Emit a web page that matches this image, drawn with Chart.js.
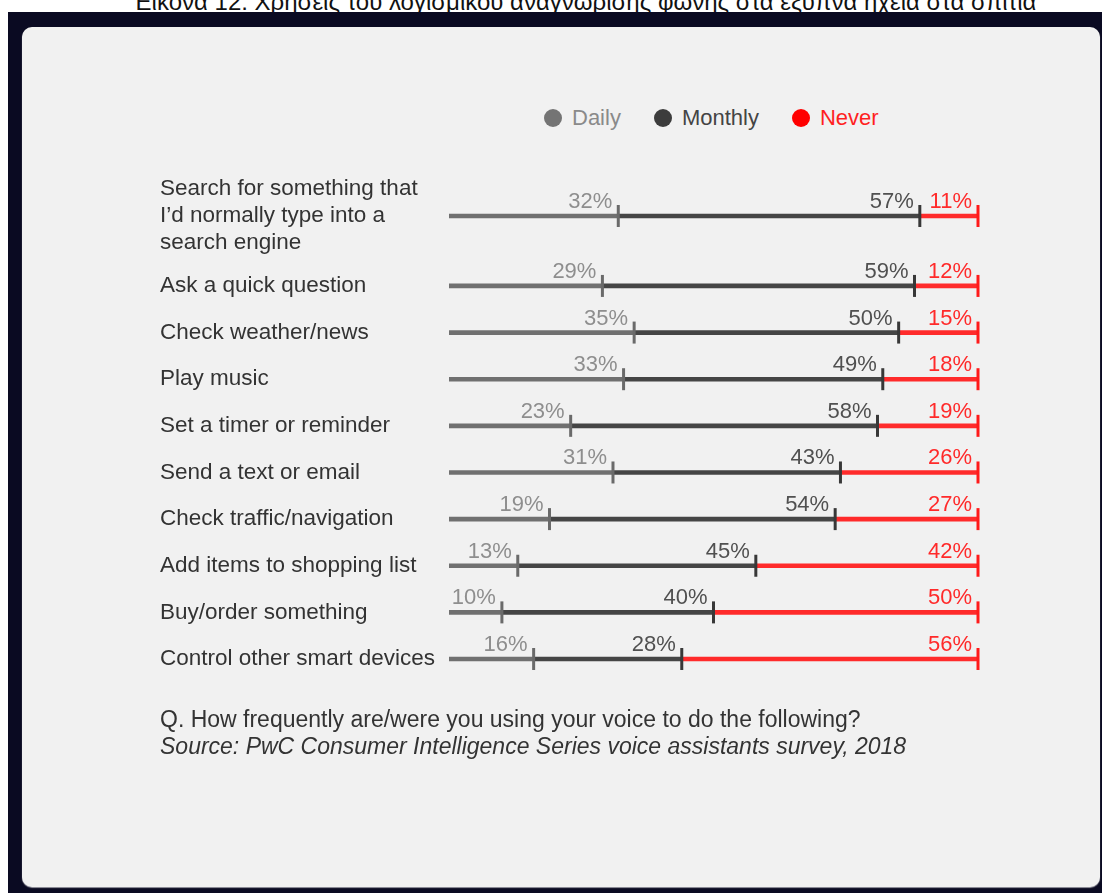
<!DOCTYPE html>
<html>
<head>
<meta charset="utf-8">
<script src="https://cdn.jsdelivr.net/npm/chart.js@4.4.1/dist/chart.umd.min.js"></script>
<style>
  body{ margin:0; width:1102px; height:893px; position:relative; overflow:hidden; background:#fff; font-family:"Liberation Sans", Arial, sans-serif; }
  .caption{ position:absolute; left:35px; width:1102px; top:-10px; text-align:center; font-size:24px; line-height:24px; color:#111; white-space:nowrap; }
  .frame{ position:absolute; left:8px; top:12px; right:0; bottom:0; background:#0a0a22; }
  .panel{ position:absolute; left:22px; top:27px; width:1078px; height:860px; background:#f1f1f1; border-radius:10px; box-shadow:0 1px 1px #9a9aa4; }
  .legend{ position:absolute; left:544px; top:106px; display:flex; align-items:center; font-size:22px; line-height:24px; }
  .legend span.item{ display:flex; align-items:center; margin-right:33px; }
  .legend i{ display:inline-block; width:18px; height:18px; border-radius:50%; margin-right:10px; }
  .chart{ position:absolute; left:160px; top:143px; width:828px; height:589px; }
  .foot{ position:absolute; left:160px; top:706px; font-size:23px; line-height:27px; color:#333; }
  .foot em{ display:block; }
</style>
</head>
<body>
<div class="caption">Εικόνα 12: Χρήσεις του λογισμικού αναγνώρισης φωνής στα έξυπνα ηχεία στα σπίτια</div>
<div class="frame"></div>
<div class="panel"></div>
<div class="legend">
  <span class="item" style="color:#8a8a8a"><i style="background:#747474"></i>Daily</span>
  <span class="item" style="color:#444"><i style="background:#3c3c3c"></i>Monthly</span>
  <span class="item" style="color:#ff1f1f"><i style="background:#ff0000"></i>Never</span>
</div>
<div class="chart"><canvas id="voiceChart"></canvas></div>
<div class="foot">Q. How frequently are/were you using your voice to do the following?<em>Source: PwC Consumer Intelligence Series voice assistants survey, 2018</em></div>

<script>
const categories = [
  ['Search for something that', 'I\u2019d normally type into a', 'search engine'],
  'Ask a quick question',
  'Check weather/news',
  'Play music',
  'Set a timer or reminder',
  'Send a text or email',
  'Check traffic/navigation',
  'Add items to shopping list',
  'Buy/order something',
  'Control other smart devices'
];
const daily   = [32, 29, 35, 33, 23, 31, 19, 13, 10, 16];
const monthly = [57, 59, 50, 49, 58, 43, 54, 45, 40, 28];
const never   = [11, 12, 15, 18, 19, 26, 27, 42, 50, 56];

// rows with longer labels push the next row down a little
const rowPos = [];
categories.forEach((c, i) => {
  if(i === 0){ rowPos.push(0); return; }
  const prev = categories[i - 1];
  const lines = Array.isArray(prev) ? prev.length : 1;
  rowPos.push(rowPos[i - 1] + 1 + (lines - 1) / 4);
});

const toPoints = arr => arr.map((v, i) => ({ x: v, y: rowPos[i] }));

const segmentMarks = {
  id: 'segmentMarks',
  afterDatasetsDraw(chart){
    const {ctx} = chart;
    chart.data.datasets.forEach((ds, di) => {
      const meta = chart.getDatasetMeta(di);
      if(meta.hidden) return;
      meta.data.forEach((el, i) => {
        ctx.save();
        ctx.strokeStyle = ds.tickColor;
        ctx.lineWidth = 3;
        ctx.beginPath();
        ctx.moveTo(el.x, el.y - 11);
        ctx.lineTo(el.x, el.y + 11);
        ctx.stroke();
        ctx.fillStyle = ds.labelColor;
        ctx.font = '22px "Liberation Sans", Arial, sans-serif';
        ctx.textAlign = 'right';
        ctx.textBaseline = 'alphabetic';
        ctx.fillText(ds.data[i].x + '%', el.x - 6, el.y - 8);
        ctx.restore();
      });
    });
  }
};

new Chart(document.getElementById('voiceChart'), {
  type: 'bar',
  data: {
    datasets: [
      { label:'Daily', data:toPoints(daily), backgroundColor:'#707070', tickColor:'#6a6a6a', labelColor:'#8e8e8e' },
      { label:'Monthly', data:toPoints(monthly), backgroundColor:'#454545', tickColor:'#383838', labelColor:'#505050' },
      { label:'Never', data:toPoints(never), backgroundColor:'#ff2b2b', tickColor:'#ff1a1a', labelColor:'#ff2a2a' }
    ]
  },
  options: {
    indexAxis: 'y',
    responsive: true,
    maintainAspectRatio: false,
    animation: false,
    barThickness: 4,
    layout: { padding: { top:45, bottom:45, left:0, right:10 } },
    plugins: { legend:{ display:false }, tooltip:{ enabled:false } },
    scales: {
      x: { type:'linear', stacked:true, min:0, max:100, display:false },
      y: {
        type: 'linear',
        stacked: true,
        reverse: true,
        offset: false,
        min: -0.6,
        max: rowPos[rowPos.length - 1] + 0.6,
        grid: { display:false },
        border: { display:false },
        afterBuildTicks(scale){ scale.ticks = rowPos.map(v => ({ value:v })); },
        afterFit(scale){ scale.width = 289; },
        ticks: {
          autoSkip: false,
          crossAlign: 'far',
          color: '#333',
          font: { family:'"Liberation Sans", Arial, sans-serif', size:22.5, lineHeight:1.2 },
          callback: v => categories[rowPos.indexOf(v)]
        }
      }
    }
  },
  plugins: [segmentMarks]
});
</script>
</body>
</html>
